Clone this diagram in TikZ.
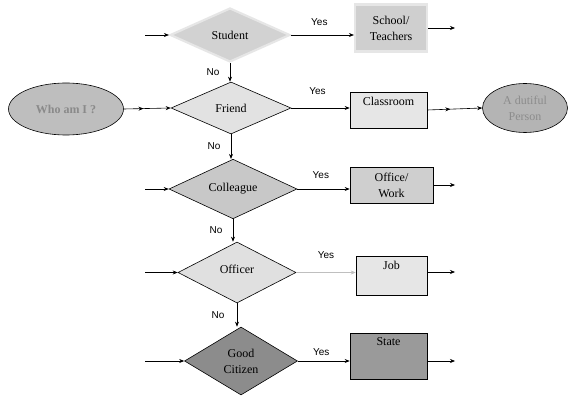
\documentclass[tikz,border=0pt]{standalone}
\usepackage{fontspec}
\setmainfont{Liberation Serif}
\newfontfamily\lblfont{Liberation Sans}
\usetikzlibrary{shapes.geometric,arrows.meta,decorations.markings}
\definecolor{cStudent}{HTML}{D2D2D2}
\definecolor{cBevel}{HTML}{E6E6E6}
\definecolor{cSchool}{HTML}{CFCFCF}
\definecolor{cWho}{HTML}{BEBEBE}
\definecolor{cWhoTxt}{HTML}{8A8A8A}
\definecolor{cFriend}{HTML}{E2E2E2}
\definecolor{cClass}{HTML}{E6E6E6}
\definecolor{cDuti}{HTML}{B4B4B4}
\definecolor{cDutiTxt}{HTML}{8C8C8C}
\definecolor{cColl}{HTML}{C8C8C8}
\definecolor{cOffice}{HTML}{CFCFCF}
\definecolor{cOfficer}{HTML}{E0E0E0}
\definecolor{cJob}{HTML}{E6E6E6}
\definecolor{cCitizen}{HTML}{8C8C8C}
\definecolor{cState}{HTML}{9A9A9A}
\begin{document}
\begin{tikzpicture}[x=1pt,y=-1pt,
  txt/.style={font=\fontsize{12}{16}\selectfont, align=center},
  dia/.style={diamond, draw=black, line width=0.6pt, inner sep=0pt, txt},
  boxn/.style={rectangle, draw=black, line width=0.6pt, inner sep=0pt, txt},
  bevel/.style={draw=cBevel, line width=2.2pt},
  ell/.style={ellipse, draw=black, line width=0.6pt, inner sep=0pt, txt},
  arr/.style={-{Stealth[length=5pt,width=4pt]}, line width=0.6pt},
  midarr/.style={line width=0.6pt, -{Stealth[length=5pt,width=4pt]},
    postaction={decorate}, decoration={markings, mark=at position 0.42 with {\arrow{Stealth[length=5pt,width=4pt]}}}},
  yes/.style={font=\lblfont\fontsize{10}{11}\selectfont},
  toptext/.style={label={[txt, anchor=north, inner sep=0pt, yshift=-5pt]north:#1}}
]
\useasboundingbox (0,0) rectangle (569,403);

% nodes
\node[dia, bevel, fill=cStudent, minimum width=120pt, minimum height=54pt] (student) at (230,35) {Student};
\node[boxn, bevel, fill=cSchool, minimum width=72pt, minimum height=47pt] (school) at (391,28) {School/\\Teachers};
\node[ell, fill=cWho, minimum width=115pt, minimum height=52pt, font=\fontsize{12}{14}\selectfont\bfseries, text=cWhoTxt] (who) at (66,109) {Who am I ?};
\node[dia, fill=cFriend, minimum width=120pt, minimum height=52pt] (friend) at (231,108) {Friend};
\node[boxn, fill=cClass, minimum width=77pt, minimum height=36pt, toptext=Classroom] (classroom) at (388.5,110) {};
\node[ell, fill=cDuti, minimum width=85pt, minimum height=49pt, text=cDutiTxt] (dutiful) at (525,108) {A dutiful\\Person};
\node[dia, fill=cColl, minimum width=128pt, minimum height=53pt] (colleague) at (233,189) {Colleague};
\node[boxn, fill=cOffice, minimum width=83pt, minimum height=36pt] (office) at (391.5,185) {Office/\\Work};
\node[dia, fill=cOfficer, minimum width=118pt, minimum height=61pt] (officer) at (237,272.5) {\raisebox{6pt}{Officer}};
\node[boxn, fill=cJob, minimum width=71pt, minimum height=39pt, toptext=Job] (job) at (391.5,275.5) {};
\node[dia, fill=cCitizen, minimum width=113pt, minimum height=68pt] (citizen) at (241,361) {Good\\Citizen};
\node[boxn, fill=cState, minimum width=77pt, minimum height=46pt, toptext=State] (state) at (388.5,356) {};

% free ends
\coordinate (inC) at (145,189);
\coordinate (inS) at (145,35);
\coordinate (inO) at (145,272.5);
\coordinate (inG) at (145,361);
\coordinate (outS) at (455,28);
\coordinate (outC) at (455,185);
\coordinate (outJ) at (455,272);
\coordinate (outG) at (455,361);

% incoming
\draw[arr] (inS) -- (student.west);
\draw[arr] (inC) -- (colleague.west);
\draw[arr] (inO) -- (officer.west);
\draw[arr] (inG) -- (citizen.west);

% yes connectors
\draw[arr] (student.east) -- (student.east -| school.west) node[yes, pos=0.45, above=6pt] {Yes};
\draw[arr] (friend.east) -- (friend.east -| classroom.west) node[yes, pos=0.45, above=10pt] {Yes};
\draw[arr] (colleague.east) -- (colleague.east -| office.west) node[yes, pos=0.45, above=7pt] {Yes};
\draw[arr, draw=black!25] (officer.east) -- (officer.east -| job.west) node[yes, pos=0.5, above=10pt, text=black] {Yes};
\draw[arr] (citizen.east) -- (citizen.east -| state.west) node[yes, pos=0.45, above=2pt] {Yes};

% no connectors
\draw[arr] (student.south) -- (student.south |- friend.north) node[yes, midway, left=7pt] {No};
\draw[arr] (friend.south) -- (friend.south |- colleague.north) node[yes, midway, left=7pt] {No};
\draw[arr] (colleague.south) -- (colleague.south |- officer.north) node[yes, midway, left=7pt] {No};
\draw[arr] (officer.south) -- (officer.south |- citizen.north) node[yes, midway, left=9pt] {No};

% outgoing
\draw[midarr] (who.east) -- (friend.west);
\draw[midarr] (classroom.east) -- (dutiful.west);
\draw[arr] (school.east |- outS) -- (outS);
\draw[arr] (office.east |- outC) -- (outC);
\draw[arr] (job.east |- outJ) -- (outJ);
\draw[arr] (state.east |- outG) -- (outG);
\end{tikzpicture}
\end{document}
